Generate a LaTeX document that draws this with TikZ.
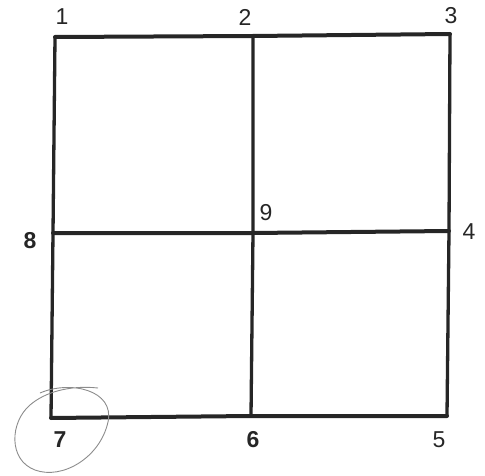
\documentclass[tikz,border=0pt]{standalone}
\usepackage{fontspec}
\setmainfont{Liberation Sans}
\begin{document}
\begin{tikzpicture}[x=1pt,y=-1pt,
  edge/.style={line width=4pt, draw=black!85, line cap=round},
  lbl/.style={font=\fontsize{23}{25}\selectfont, text=black!85, inner sep=0pt}]
\useasboundingbox (0,0) rectangle (485,476);
\coordinate (p1) at (55,37);
\coordinate (p2) at (253,36);
\coordinate (p3) at (450,34);
\coordinate (p8) at (53,233);
\coordinate (p9) at (253,233);
\coordinate (p4) at (449,231);
\coordinate (p7) at (51,418);
\coordinate (p6) at (251,416);
\coordinate (p5) at (447,416);
\draw[edge] (p1) -- (p2) -- (p3);
\draw[edge] (p8) -- (p9) -- (p4);
\draw[edge] (p7) -- (p6) -- (p5);
\draw[edge, line width=3.3pt] (p1) -- (p8) -- (p7);
\draw[edge, line width=3.3pt] (p2) -- (p9) -- (p6);
\draw[edge, line width=3.3pt] (p3) -- (p4) -- (p5);
\node[lbl] (n1) at (62,17) {1};
\node[lbl] (n2) at (245,17) {2};
\node[lbl] (n3) at (451,16) {3};
\node[lbl, font=\bfseries\fontsize{23}{25}\selectfont] (n8) at (30,241) {8};
\node[lbl] (n9) at (266,213) {9};
\node[lbl] (n4) at (469,232) {4};
\node[lbl, font=\bfseries\fontsize{23}{25}\selectfont] (n7) at (60,440) {7};
\node[lbl, font=\bfseries\fontsize{23}{25}\selectfont] (n6) at (253,440) {6};
\node[lbl] (n5) at (439,440) {5};
\draw[black!45, line width=0.9pt] (40,393) .. controls (70,380) and (115,390) .. (108,422)
  .. controls (100,458) and (62,480) .. (35,470)
  .. controls (8,460) and (10,422) .. (30,405)
  .. controls (45,392) and (70,385) .. (98,388);
\end{tikzpicture}
\end{document}
